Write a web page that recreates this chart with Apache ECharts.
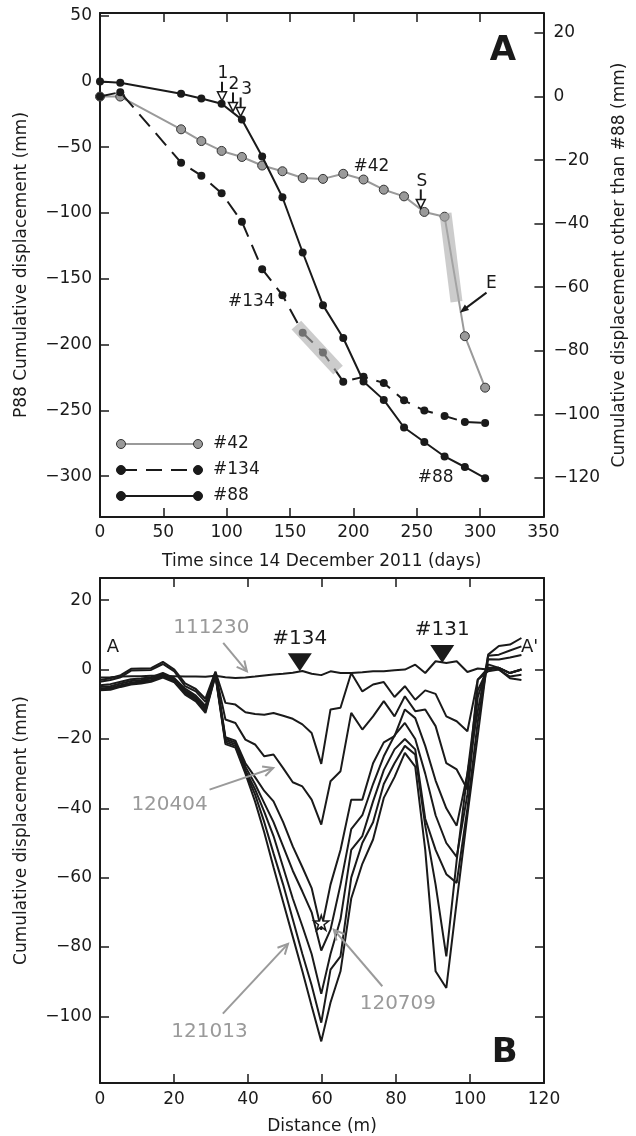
<!DOCTYPE html>
<html>
<head>
<meta charset="utf-8">
<script src="https://cdn.jsdelivr.net/npm/echarts@6/dist/echarts.min.js"></script>
<style>
html, body { margin: 0; padding: 0; background: #fff; }
#chart { width: 636px; height: 1136px; }
</style>
</head>
<body>
<div id="chart"></div>
<script>
// ---- panel A: time series (days since 14 Dec 2011) ----
const days = [0, 16, 64, 80, 96, 112, 128, 144, 160, 176, 192, 208, 224, 240, 256, 272, 288, 304];
// P88, left axis (mm)
const p88 = [0, -1, -9.4, -13, -17, -29, -57, -88, -130, -170, -195, -228, -242, -263, -274, -285, -293, -301.5];
// #42 and #134, right axis (mm)
const p42 = [0, 0, -10.3, -14, -17.1, -19, -21.7, -23.5, -25.6, -25.9, -24.3, -26.1, -29.3, -31.4, -36.3, -37.8, -75.4, -91.6];
const p134 = [0, 1.4, -20.8, -24.9, -30.4, -39.4, -54.3, -62.5, -74.3, -80.5, -89.7, -88.2, -90.1, -95.6, -98.8, -100.5, -102.4, -102.7];

const timeTicks = [0, 50, 100, 150, 200, 250, 300, 350];
const p88Ticks = [-300, -250, -200, -150, -100, -50, 0, 50];
const otherTicks = [-120, -100, -80, -60, -40, -20, 0, 20];

// ---- panel B: profiles along A-A' ----
const distance = [0, 2.8, 5.6, 8.4, 11.1, 13.8, 17.0, 20.1, 23.0, 25.9, 28.5, 31.2, 33.9, 36.6, 39.3, 41.9, 44.4, 46.9, 49.5, 52.1, 54.7,
  57.2, 59.8, 62.3, 65.0, 67.9, 70.9, 73.8, 76.7, 79.6, 82.4, 85.2, 87.9, 90.7, 93.6, 96.4, 99.3, 102.1, 104.9, 107.8, 110.8, 113.9];

const prof111230 = [-2.3, -2.2, -2.0, -1.9, -1.9, -1.8, -1.8, -1.9, -2.0, -2.0, -2.1, -1.8, -2.2, -2.4, -2.3, -2.0, -1.7, -1.4, -1.2, -0.9, -0.4,
  -1.2, -1.6, -0.5, -1.0, -1.0, -0.8, -0.5, -0.5, -0.2, 0.0, 1.4, -1.0, 2.4, 1.9, 2.4, -0.7, 0.3, 0.0, 0.5, -1.0, 0.0];
const profA = [-3.0, -2.5, -1.6, 0.2, 0.3, 0.4, 2.2, 0.0, -4.0, -5.6, -8.4, -0.6, -9.6, -10.1, -12.3, -12.8, -13.0, -12.5, -13.3, -14.2, -15.8,
  -18.3, -27.2, -11.5, -11.0, -1.0, -6.3, -4.3, -3.6, -7.9, -4.8, -8.7, -6.0, -7.0, -13.5, -14.9, -17.8, -2.9, -0.5, 0.0, -2.5, -3.0];
const prof120404 = [-3.5, -3.0, -2.2, -0.3, -0.2, -0.1, 1.6, -0.5, -4.8, -6.3, -9.3, -0.8, -14.4, -15.4, -20.2, -21.6, -25.0, -24.5, -28.4, -32.5, -33.7,
  -37.5, -44.7, -32.2, -29.3, -12.5, -17.3, -13.5, -9.1, -13.5, -7.7, -12.0, -11.5, -16.3, -27.0, -28.8, -34.6, -2.9, 0.5, 0.5, -1.0, 0.0];
const profC = [-4.5, -4.2, -3.5, -2.8, -2.6, -2.2, -1.0, -2.5, -5.5, -7.5, -10.5, -1.0, -19.5, -20.5, -27.0, -31.0, -35.0, -38.0, -44.0, -51.0, -57.0,
  -63.0, -75.0, -62.0, -52.0, -37.5, -37.5, -27.0, -21.0, -19.2, -11.5, -14.0, -22.0, -32.0, -40.0, -45.0, -30.0, -6.0, 0.5, 0.0, -2.0, -1.5];
const prof120709 = [-5.0, -4.8, -4.0, -3.3, -3.0, -2.6, -1.4, -2.8, -6.0, -8.0, -11.0, -1.2, -20.0, -21.0, -28.0, -33.0, -38.5, -44.0, -51.0, -58.0, -64.0,
  -70.0, -81.0, -75.0, -62.0, -46.0, -42.0, -33.0, -25.0, -19.0, -15.4, -20.0, -30.0, -42.0, -50.0, -54.0, -36.0, -8.0, 1.5, 0.5, -1.0, 0.0];
const profD = [-5.5, -5.2, -4.5, -3.8, -3.4, -3.0, -1.8, -3.2, -6.4, -8.4, -11.5, -1.4, -20.5, -21.5, -29.0, -34.5, -41.0, -48.0, -57.0, -66.0, -74.0,
  -82.0, -93.5, -82.0, -72.0, -52.0, -48.0, -38.0, -29.0, -23.0, -20.0, -23.0, -43.0, -52.0, -59.0, -61.5, -40.0, -15.0, 3.0, 2.9, 3.5, 4.2];
const profE = [-5.8, -5.5, -4.8, -4.0, -3.7, -3.2, -2.0, -3.4, -6.8, -8.8, -12.0, -1.6, -21.0, -22.0, -29.5, -36.0, -44.0, -53.0, -62.0, -72.0, -82.0,
  -91.0, -101.8, -86.5, -82.7, -60.0, -50.0, -44.0, -33.0, -27.0, -22.0, -24.5, -45.0, -62.0, -82.7, -55.0, -30.0, -12.0, 4.0, 4.3, 5.5, 6.7];
const prof121013 = [-6.0, -5.8, -5.0, -4.3, -4.0, -3.5, -2.3, -3.7, -7.2, -9.2, -12.5, -1.8, -21.5, -22.5, -30.0, -38.0, -47.0, -57.0, -67.0, -77.0, -87.0,
  -97.0, -107.2, -96.0, -87.0, -66.0, -56.0, -49.0, -37.0, -31.0, -24.0, -28.0, -52.0, -87.0, -91.8, -67.0, -42.0, -19.0, 4.3, 6.8, 7.2, 9.1];

const stationNames = ['#134', '#131'];
const stationDist = [54, 92.5];
const stationDisp = [-0.5, 1.9];

const distanceTicks = [0, 20, 40, 60, 80, 100, 120];
const profileTicks = [-100, -80, -60, -40, -20, 0, 20];

const FONT = '"DejaVu Sans", "Liberation Sans", sans-serif';
const INK = '#1a1a1a';
const GREY = '#9a9a9a';
const minus = v => String(v).replace('-', '\u2212');

function makeAxis(o) {
  const ax = {
    type: 'value', gridIndex: o.grid, position: o.pos, min: o.min, max: o.max,
    axisLine: { show: true, onZero: false, lineStyle: { color: INK, width: 2 } },
    axisTick: { show: true, inside: true, length: 9, customValues: o.ticks, lineStyle: { color: INK, width: 1.5 } },
    axisLabel: { show: o.labels !== false, customValues: o.ticks, color: INK, fontFamily: FONT, fontSize: 17,
      margin: o.margin || 8, formatter: minus },
    splitLine: { show: false }
  };
  if (o.name) {
    ax.name = o.name;
    ax.nameLocation = 'middle';
    ax.nameGap = o.nameGap;
    if (o.nameRotate != null) ax.nameRotate = o.nameRotate;
    ax.nameTextStyle = { color: INK, fontFamily: FONT, fontSize: 17 };
  }
  return ax;
}

const pairs = (xs, ys) => xs.map((x, i) => [x, ys[i]]);

const chart = echarts.init(document.getElementById('chart'));

const profiles = [prof111230, profA, prof120404, profC, prof120709, profD, profE, prof121013];

const option = {
  animation: false,
  backgroundColor: '#fff',
  textStyle: { fontFamily: FONT },
  grid: [
    { left: 100, top: 13, width: 444, height: 504 },
    { left: 100, top: 578, width: 444, height: 505 }
  ],
  xAxis: [
    makeAxis({ grid: 0, pos: 'bottom', min: 0, max: 350, ticks: timeTicks, margin: 7,
      name: 'Time since 14 December 2011 (days)', nameGap: 36 }),
    makeAxis({ grid: 0, pos: 'top', min: 0, max: 350, ticks: timeTicks, labels: false }),
    makeAxis({ grid: 1, pos: 'bottom', min: 0, max: 120, ticks: distanceTicks, margin: 8,
      name: 'Distance (m)', nameGap: 35 }),
    makeAxis({ grid: 1, pos: 'top', min: 0, max: 120, ticks: distanceTicks, labels: false })
  ],
  yAxis: [
    makeAxis({ grid: 0, pos: 'left', min: -331, max: 52, ticks: p88Ticks,
      name: 'P88 Cumulative displacement (mm)', nameGap: 70, nameRotate: 90 }),
    makeAxis({ grid: 0, pos: 'right', min: -132.3, max: 26.3, ticks: otherTicks, margin: 10,
      name: 'Cumulative displacement other than #88 (mm)', nameGap: 67, nameRotate: 90 }),
    makeAxis({ grid: 1, pos: 'left', min: -119.2, max: 26.4, ticks: profileTicks,
      name: 'Cumulative displacement (mm)', nameGap: 70, nameRotate: 90 }),
    makeAxis({ grid: 1, pos: 'right', min: -119.2, max: 26.4, ticks: profileTicks, labels: false })
  ],
  series: [
    {
      name: '#42', type: 'line', xAxisIndex: 0, yAxisIndex: 1, data: pairs(days, p42),
      symbol: 'circle', symbolSize: 9, showAllSymbol: true,
      lineStyle: { color: GREY, width: 2 },
      itemStyle: { color: GREY, borderColor: '#333', borderWidth: 1 }, z: 3
    },
    {
      name: '#134', type: 'line', xAxisIndex: 0, yAxisIndex: 1, data: pairs(days, p134),
      symbol: 'circle', symbolSize: 8, showAllSymbol: true,
      lineStyle: { color: INK, width: 2, type: [16, 9] },
      itemStyle: { color: INK, borderWidth: 0 }, z: 4
    },
    {
      name: '#88', type: 'line', xAxisIndex: 0, yAxisIndex: 0, data: pairs(days, p88),
      symbol: 'circle', symbolSize: 8, showAllSymbol: true,
      lineStyle: { color: INK, width: 2 },
      itemStyle: { color: INK, borderWidth: 0 }, z: 5
    },
    // highlighted segments
    {
      type: 'line', xAxisIndex: 0, yAxisIndex: 1, data: [[155, -71.9], [187.9, -86.1]],
      symbol: 'none', lineStyle: { color: '#aaa', width: 13, opacity: 0.6, cap: 'butt' }, z: 8, silent: true
    },
    {
      type: 'line', xAxisIndex: 0, yAxisIndex: 1, data: [[272.7, -36.7], [281.4, -64.6]],
      symbol: 'none', lineStyle: { color: '#aaa', width: 12, opacity: 0.6, cap: 'butt' }, z: 8, silent: true
    },
    ...profiles.map(p => ({
      type: 'line', xAxisIndex: 2, yAxisIndex: 2, data: pairs(distance, p),
      symbol: 'none', lineStyle: { color: INK, width: 2 }, z: 3, silent: true
    })),
    {
      type: 'scatter', xAxisIndex: 2, yAxisIndex: 2,
      data: stationNames.map((n, i) => ({ name: n, value: [stationDist[i], stationDisp[i]] })),
      symbol: 'triangle', symbolRotate: 180, symbolSize: [24, 18], symbolOffset: [0, -9],
      itemStyle: { color: INK, opacity: 1 },
      label: { show: true, position: 'top', distance: 5, formatter: '{b}', color: INK, opacity: 1,
        fontFamily: FONT, fontSize: 20 },
      z: 6
    },
    {
      type: 'scatter', xAxisIndex: 2, yAxisIndex: 2, data: [[59.8, -73]],
      symbol: 'path://M50,0 L61,35 L98,35 L68,57 L79,91 L50,70 L21,91 L32,57 L2,35 L39,35 Z',
      symbolSize: 15, itemStyle: { color: '#fff', borderColor: INK, borderWidth: 1.5, opacity: 1 }, z: 7
    }
  ]
};

chart.setOption(option);

// ---- annotations ----
const toPx = (xi, yi, pt) => chart.convertToPixel({ xAxisIndex: xi, yAxisIndex: yi }, pt);
const g = [];

function txt(x, y, s, size, color, weight, align) {
  g.push({
    type: 'text', x: x, y: y, z: 100,
    style: {
      text: s, fill: color || INK, font: (weight || 'normal') + ' ' + size + 'px ' + FONT,
      align: align || 'center', verticalAlign: 'middle', textAlign: align || 'center', textVerticalAlign: 'middle'
    }
  });
}
function seg(x1, y1, x2, y2, color, w, dash) {
  g.push({ type: 'line', z: 100, shape: { x1, y1, x2, y2 }, style: { stroke: color, lineWidth: w, lineDash: dash || null } });
}
function head(x1, y1, x2, y2, len, hw) {
  const dx = x2 - x1, dy = y2 - y1, L = Math.hypot(dx, dy);
  const ux = dx / L, uy = dy / L;
  const bx = x2 - ux * len, by = y2 - uy * len;
  return [[bx - uy * hw, by + ux * hw], [x2, y2], [bx + uy * hw, by - ux * hw]];
}

// hollow down arrows 1,2,3 (left axis) and S (right axis)
const downMarks = [
  { s: '1', ax: 0, tip: [96.3, -14.7], dx: 1 },
  { s: '2', ax: 0, tip: [105, -22.8], dx: 1 },
  { s: '3', ax: 0, tip: [111, -26.6], dx: 6 },
  { s: 'S', ax: 1, tip: [253.2, -35.2], dx: 1 }
];
downMarks.forEach(m => {
  const [tx, ty] = toPx(0, m.ax, m.tip);
  seg(tx, ty - 19, tx, ty - 8, INK, 2);
  g.push({ type: 'polygon', z: 101, shape: { points: [[tx, ty], [tx - 4.5, ty - 9], [tx + 4.5, ty - 9]] },
    style: { fill: '#fff', stroke: INK, lineWidth: 1.5 } });
  txt(tx + m.dx, ty - 27, m.s, 17);
});

// E arrow
{
  const [tx, ty] = toPx(0, 1, [284, -68]);
  seg(tx + 26.7, ty - 20, tx + 4, ty - 3, INK, 2);
  g.push({ type: 'polygon', z: 101, shape: { points: head(tx + 26.7, ty - 20, tx, ty, 9, 3.5) }, style: { fill: INK } });
  txt(tx + 31.7, ty - 29.4, 'E', 17);
}

// series labels, panel A
[['#42', 1, [214.3, -22]], ['#134', 1, [119.5, -64.6]], ['#88', 0, [265, -301]]].forEach(([s, ax, pt]) => {
  const [x, y] = toPx(0, ax, pt);
  txt(x, y, s, 17);
});
{
  const [x, y] = toPx(0, 0, [318, 22.8]);
  txt(x, y, 'A', 34, INK, 'bold');
}

// legend
[
  { s: '#42', y: 444, line: GREY, fill: GREY, stroke: '#333', dash: null },
  { s: '#134', y: 470, line: INK, fill: INK, stroke: INK, dash: [16, 9] },
  { s: '#88', y: 496, line: INK, fill: INK, stroke: INK, dash: null }
].forEach(r => {
  seg(121, r.y, 198, r.y, r.line, 2, r.dash);
  [121, 198].forEach(cx => g.push({ type: 'circle', z: 101, shape: { cx, cy: r.y, r: 4.5 },
    style: { fill: r.fill, stroke: r.stroke, lineWidth: 1 } }));
  txt(213, r.y, r.s, 17, INK, 'normal', 'left');
});

// panel B grey date labels with open arrows
[
  { s: '111230', at: [30.1, 12.0], from: [33.3, 7.7], to: [39.7, -0.5] },
  { s: '120404', at: [18.8, -38.9], from: [29.6, -34.6], to: [46.8, -28.4] },
  { s: '121013', at: [29.6, -104.3], from: [33.2, -99.2], to: [50.8, -79.1] },
  { s: '120709', at: [80.5, -96.3], from: [76.3, -91.3], to: [63.2, -75.0] }
].forEach(a => {
  const [x1, y1] = toPx(2, 2, a.from);
  const [x2, y2] = toPx(2, 2, a.to);
  seg(x1, y1, x2, y2, GREY, 2);
  g.push({ type: 'polyline', z: 100, shape: { points: head(x1, y1, x2, y2, 10, 5) },
    style: { stroke: GREY, lineWidth: 2, fill: null } });
  const [tx, ty] = toPx(2, 2, a.at);
  txt(tx, ty, a.s, 20, GREY);
});
{
  let [x, y] = toPx(2, 2, [3.5, 6.3]);
  txt(x, y, 'A', 18);
  [x, y] = toPx(2, 2, [116.1, 6.5]);
  txt(x, y, "A'", 18);
  [x, y] = toPx(2, 2, [109.4, -110.6]);
  txt(x, y, 'B', 34, INK, 'bold');
}

chart.setOption({ graphic: g });
</script>
</body>
</html>
